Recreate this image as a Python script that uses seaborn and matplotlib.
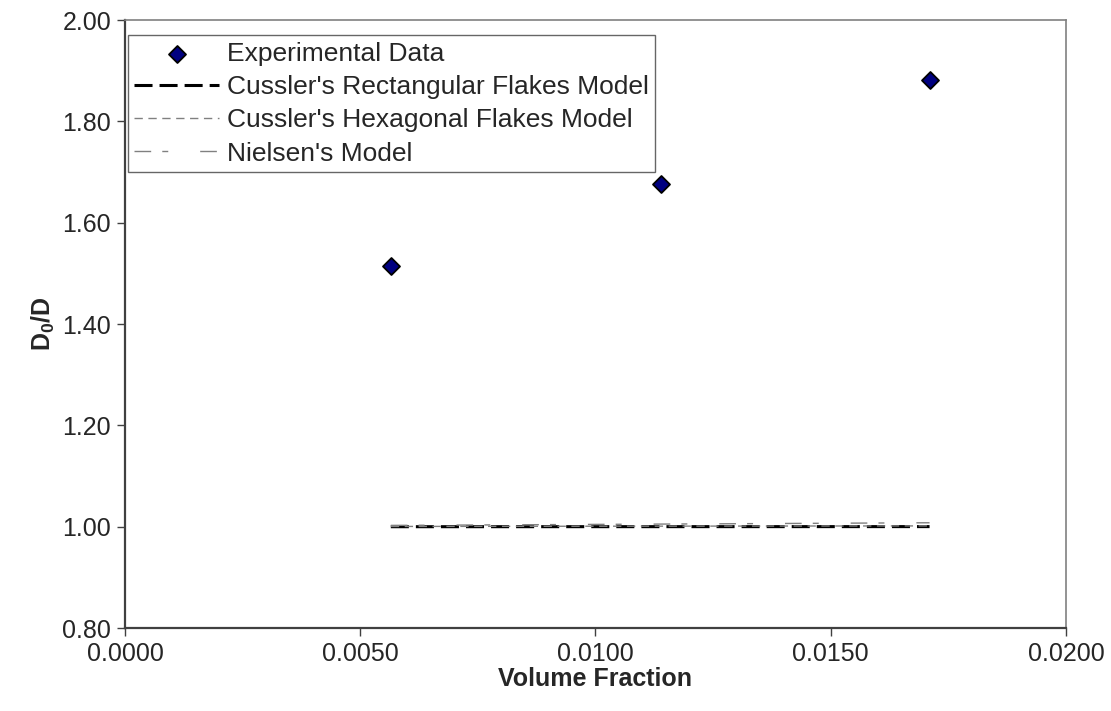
import matplotlib
matplotlib.use("Agg")
import matplotlib.pyplot as plt
import seaborn as sns
import pandas as pd

# Measured barrier data
volume_fraction = [0.00565, 0.0114, 0.0171]
d0_over_d = [1.515, 1.676, 1.882]

# Model predictions at the same loadings
rect_model = [1.0000, 1.0001, 1.0002]
hex_model = [1.0005, 1.0011, 1.0016]
nielsen_model = [1.0026, 1.0052, 1.0078]

x_ticks = [0.0, 0.005, 0.010, 0.015, 0.020]
y_ticks = [0.80, 1.00, 1.20, 1.40, 1.60, 1.80, 2.00]

sns.set_theme(style="white")
plt.rcParams["font.family"] = ["Liberation Sans", "DejaVu Sans"]
plt.rcParams["mathtext.fontset"] = "custom"
plt.rcParams["mathtext.bf"] = "Liberation Sans:bold"
plt.rcParams["mathtext.rm"] = "Liberation Sans"

FS = 18
LEG_FS = 19

fig = plt.figure(figsize=(11.11, 7.11), dpi=100)
ax = fig.add_axes([0.1125, 0.1167, 0.847, 0.855])

models = pd.DataFrame({
    "x": volume_fraction * 3,
    "y": rect_model + hex_model + nielsen_model,
    "model": (["Cussler's Rectangular Flakes Model"] * 3
              + ["Cussler's Hexagonal Flakes Model"] * 3
              + ["Nielsen's Model"] * 3),
})

sns.scatterplot(x=volume_fraction, y=d0_over_d, ax=ax, marker="D", s=75,
                color="#000080", edgecolor="black", linewidth=1.3,
                label="Experimental Data", zorder=3)

# dash patterns are in units of line width
styles = {
    "Cussler's Rectangular Flakes Model": dict(color="black", lw=2.2, dashes=(5.9, 2.3)),
    "Cussler's Hexagonal Flakes Model": dict(color="#808080", lw=1.0, dashes=(6, 4)),
    "Nielsen's Model": dict(color="#808080", lw=1.0, dashes=(12, 8, 4.3, 23)),
}
for name, st in styles.items():
    sub = models[models["model"] == name]
    sns.lineplot(data=sub, x="x", y="y", ax=ax, color=st["color"],
                 linewidth=st["lw"], label=name)
    ax.lines[-1].set_dashes(st["dashes"])

ax.set_xlim(0.0, 0.020)
ax.set_ylim(0.80, 2.00)
ax.set_xticks(x_ticks)
ax.set_yticks(y_ticks)
ax.set_xticklabels([f"{v:.4f}" for v in x_ticks], fontsize=FS)
ax.set_yticklabels([f"{v:.2f}" for v in y_ticks], fontsize=FS)
ax.tick_params(axis="both", direction="out", length=6, width=1,
               color="#404040", left=True, bottom=True, pad=4)

ax.set_xlabel("Volume Fraction", fontsize=FS, fontweight="bold", labelpad=1)
ax.set_ylabel(r"$\mathbf{D_0/D}$", fontsize=FS)
ax.yaxis.set_label_coords(-0.072, 0.5)

for side in ["left", "bottom"]:
    ax.spines[side].set_color("#404040")
    ax.spines[side].set_linewidth(1.6)
for side in ["top", "right"]:
    ax.spines[side].set_color("#808080")
    ax.spines[side].set_linewidth(1.2)

leg = ax.legend(loc="upper left", bbox_to_anchor=(0.003, 0.975), fontsize=LEG_FS,
                frameon=True, fancybox=False, edgecolor="#404040",
                handlelength=3.2, handletextpad=0.3, borderpad=0.25,
                labelspacing=0.35, borderaxespad=0.0)
leg.get_frame().set_linewidth(1.0)

fig.savefig("out.png", dpi=100)
